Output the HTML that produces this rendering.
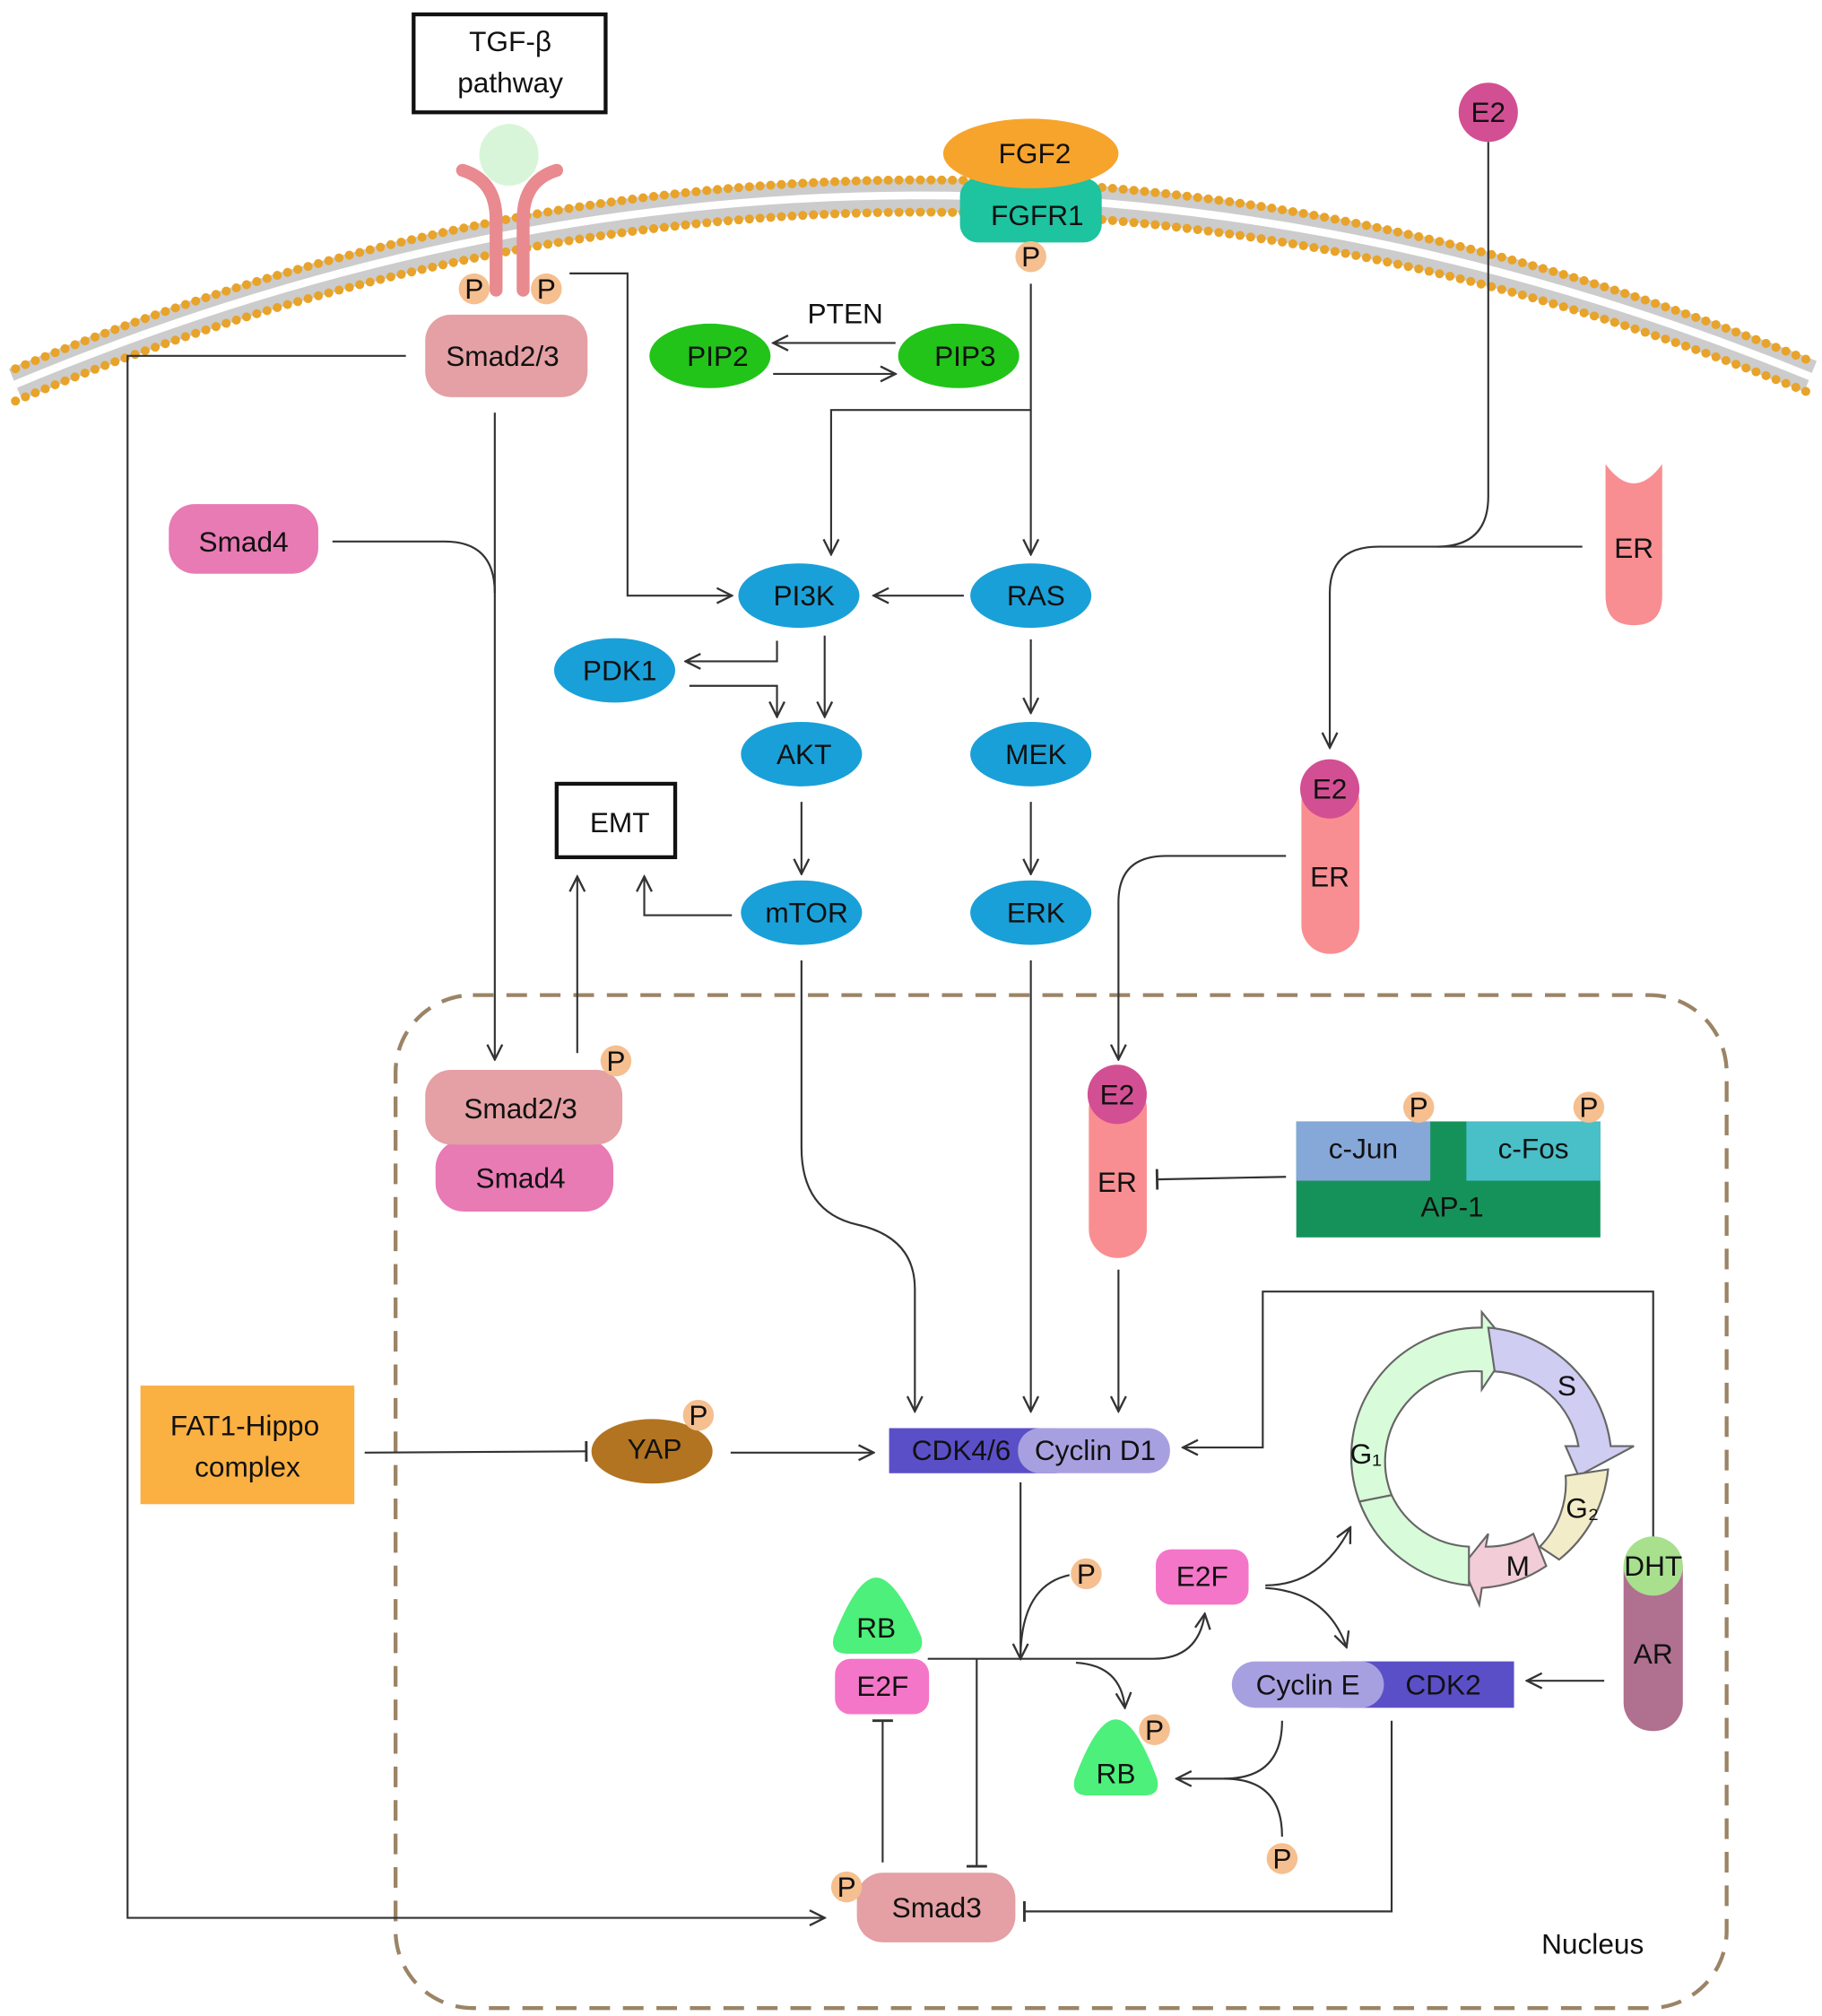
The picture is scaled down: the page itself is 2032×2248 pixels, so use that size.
<!DOCTYPE html>
<html><head><meta charset="utf-8"><style>
html,body{margin:0;padding:0;background:#fff}
svg{display:block}
text{font-family:"Liberation Sans",sans-serif;font-size:22px;fill:#111;text-anchor:middle;dominant-baseline:central}
</style></head><body>
<svg width="2032" height="2248" viewBox="0 0 1414 1564" xmlns="http://www.w3.org/2000/svg">
<defs>
<marker id="a" viewBox="0 0 12 12" refX="11" refY="6" markerWidth="14" markerHeight="14" markerUnits="userSpaceOnUse" orient="auto"><path d="M1,1 L11,6 L1,11" fill="none" stroke="#333" stroke-width="1.4"/></marker>
<marker id="t" viewBox="0 0 4 16" refX="2" refY="8" markerWidth="4" markerHeight="16" markerUnits="userSpaceOnUse" orient="auto"><path d="M2,0 L2,16" stroke="#333" stroke-width="2"/></marker>
</defs>
<!-- membrane -->
<g fill="none">
<path d="M12,298 Q707,8 1405,292" stroke="#ccc" stroke-width="26"/>
<path d="M12,298 Q707,8 1405,292" stroke="#fff" stroke-width="6"/>
<path d="M12,286 Q707,-4 1405,280" stroke="#e8a32a" stroke-width="7" stroke-linecap="round" stroke-dasharray="0 8.3"/>
<path d="M12,311 Q707,21 1405,305" stroke="#e8a32a" stroke-width="7" stroke-linecap="round" stroke-dasharray="0 8.3"/>
</g>
<!-- nucleus -->
<rect x="307" y="772" width="1033" height="786" rx="60" fill="none" stroke="#9b8466" stroke-width="3" stroke-dasharray="16 10"/>
<text x="1236" y="1508">Nucleus</text>
<!-- TGF -->
<rect x="321" y="11" width="149" height="76" fill="#fff" stroke="#111" stroke-width="3"/>
<text x="396" y="32">TGF-β</text><text x="396" y="64">pathway</text>
<ellipse cx="395" cy="120" rx="23" ry="24" fill="#d9f5d9"/>
<path d="M359,132 Q385,140 385,170 L385,225" stroke="#e88a8f" stroke-width="10" fill="none" stroke-linecap="round"/>
<path d="M432,132 Q406,140 406,170 L406,225" stroke="#e88a8f" stroke-width="10" fill="none" stroke-linecap="round"/>
<circle cx="368" cy="224" r="12" fill="#f5bf8f"/><text x="368" y="224">P</text>
<circle cx="424" cy="224" r="12" fill="#f5bf8f"/><text x="424" y="224">P</text>
<rect x="330" y="244" width="126" height="64" rx="20" fill="#e4a0a4"/><text x="390" y="276">Smad2/3</text>
<!-- FGF -->
<rect x="745" y="138" width="110" height="50" rx="14" fill="#1ec3a0"/><text x="805" y="167">FGFR1</text>
<ellipse cx="800" cy="119" rx="68" ry="27" fill="#f7a42c"/><text x="803" y="119">FGF2</text>
<circle cx="800" cy="199" r="12" fill="#f5bf8f"/><text x="800" y="199">P</text>
<!-- E2 top -->
<circle cx="1155" cy="87" r="23" fill="#d34f93"/><text x="1155" y="87">E2</text>
<!-- PIP -->
<ellipse cx="551" cy="276" rx="47" ry="25" fill="#22c41a"/><text x="557" y="276">PIP2</text>
<ellipse cx="744" cy="276" rx="47" ry="25" fill="#22c41a"/><text x="749" y="276">PIP3</text>
<text x="656" y="243">PTEN</text>
<g stroke="#333" stroke-width="1.5" fill="none">
<path d="M695,266 L600,266" marker-end="url(#a)"/>
<path d="M600,290 L695,290" marker-end="url(#a)"/>
<!-- FGFR down -->
<path d="M800,220 L800,430" marker-end="url(#a)"/>
<path d="M800,318 L645,318 L645,430" marker-end="url(#a)"/>
<!-- TGF to PI3K -->
<path d="M442,212 L487,212 L487,462 L568,462" marker-end="url(#a)"/>
<path d="M748,462 L678,462" marker-end="url(#a)"/>
<path d="M603,497 L603,513 L532,513" marker-end="url(#a)"/>
<path d="M535,532 L603,532 L603,556" marker-end="url(#a)"/>
<path d="M640,493 L640,556" marker-end="url(#a)"/>
<path d="M800,496 L800,553" marker-end="url(#a)"/>
<path d="M622,622 L622,678" marker-end="url(#a)"/>
<path d="M800,622 L800,678" marker-end="url(#a)"/>
<path d="M568,710 L500,710 L500,680" marker-end="url(#a)"/>
<!-- Smad path -->
<path d="M384,320 L384,822" marker-end="url(#a)"/>
<path d="M258,420 L345,420 Q384,420 384,460"/>
<path d="M448,817 L448,680" marker-end="url(#a)"/>
<path d="M315,276 L99,276 L99,1488 L640,1488" marker-end="url(#a)"/>
<!-- E2 -->
<path d="M1155,110 L1155,385 Q1155,424 1115,424 L1070,424 Q1032,424 1032,460 L1032,580" marker-end="url(#a)"/>
<path d="M1228,424 L1115,424"/>
<path d="M998,664 L905,664 Q868,664 868,700 L868,822" marker-end="url(#a)"/>
<path d="M998,913 L898,915" marker-end="url(#t)"/>
<path d="M868,985 L868,1095" marker-end="url(#a)"/>
<!-- mTOR / ERK to cyclin D -->
<path d="M622,745 L622,890 Q622,940 665,950 Q710,960 710,1000 L710,1095" marker-end="url(#a)"/>
<path d="M800,745 L800,1095" marker-end="url(#a)"/>
<path d="M1283,1195 L1283,1002 L980,1002 L980,1123 L918,1123" marker-end="url(#a)"/>
<!-- YAP -->
<path d="M283,1127 L455,1126" marker-end="url(#t)"/>
<path d="M567,1127 L678,1127" marker-end="url(#a)"/>
<!-- CDK4/6 down -->
<path d="M792,1150 L792,1287"/>
<path d="M830,1222 Q792,1230 792,1287" marker-end="url(#a)"/>
<path d="M720,1287 L895,1287 Q930,1287 935,1252" marker-end="url(#a)"/>
<path d="M835,1290 Q870,1292 873,1325" marker-end="url(#a)"/>
<path d="M758,1287 L758,1448" marker-end="url(#t)"/>
<path d="M685,1445 L685,1335" marker-end="url(#t)"/>
<path d="M982,1230 Q1025,1230 1048,1185" marker-end="url(#a)"/>
<path d="M982,1232 Q1030,1235 1045,1278" marker-end="url(#a)"/>
<path d="M1245,1304 L1185,1304" marker-end="url(#a)"/>
<path d="M995,1335 Q995,1380 950,1380 L913,1380" marker-end="url(#a)"/>
<path d="M995,1425 Q995,1380 950,1380"/>
<path d="M1080,1335 L1080,1483 L795,1483" marker-end="url(#t)"/>
</g>
<!-- blue ellipses -->
<g fill="#1aa0d8">
<ellipse cx="620" cy="462" rx="47" ry="25"/><ellipse cx="800" cy="462" rx="47" ry="25"/>
<ellipse cx="477" cy="520" rx="47" ry="25"/><ellipse cx="622" cy="585" rx="47" ry="25"/>
<ellipse cx="800" cy="585" rx="47" ry="25"/><ellipse cx="622" cy="708" rx="47" ry="25"/>
<ellipse cx="800" cy="708" rx="47" ry="25"/>
</g>
<text x="624" y="462">PI3K</text><text x="804" y="462">RAS</text><text x="481" y="520">PDK1</text>
<text x="624" y="585">AKT</text><text x="804" y="585">MEK</text><text x="626" y="708">mTOR</text><text x="804" y="708">ERK</text>
<rect x="131" y="391" width="116" height="54" rx="20" fill="#e87ab4"/><text x="189" y="420">Smad4</text>
<rect x="432" y="608" width="92" height="57" fill="#fff" stroke="#111" stroke-width="3"/><text x="481" y="638">EMT</text>
<!-- ER -->
<path d="M1246,360 Q1268,390 1290,360 L1290,462 Q1290,485 1268,485 Q1246,485 1246,462 Z" fill="#f88e91"/>
<text x="1268" y="425">ER</text>
<rect x="1010" y="600" width="45" height="140" rx="22" fill="#f88e91"/><text x="1032" y="680">ER</text>
<circle cx="1032" cy="612" r="23" fill="#d34f93"/><text x="1032" y="612">E2</text>
<rect x="845" y="838" width="45" height="138" rx="22" fill="#f88e91"/><text x="867" y="917">ER</text>
<circle cx="867" cy="849" r="23" fill="#d34f93"/><text x="867" y="849">E2</text>
<!-- nuclear smads -->
<rect x="338" y="884" width="138" height="56" rx="22" fill="#e87ab4"/><text x="404" y="914">Smad4</text>
<rect x="330" y="830" width="153" height="58" rx="20" fill="#e4a0a4"/><text x="404" y="860">Smad2/3</text>
<circle cx="478" cy="823" r="12" fill="#f5bf8f"/><text x="478" y="823">P</text>
<!-- AP-1 -->
<rect x="1006" y="870" width="236" height="90" fill="#15925a"/>
<rect x="1006" y="870" width="104" height="46" fill="#85a8d8"/><text x="1058" y="891">c-Jun</text>
<rect x="1138" y="870" width="104" height="46" fill="#49bfc7"/><text x="1190" y="891">c-Fos</text>
<text x="1127" y="936">AP-1</text>
<circle cx="1101" cy="859" r="12" fill="#f5bf8f"/><text x="1101" y="859">P</text>
<circle cx="1233" cy="859" r="12" fill="#f5bf8f"/><text x="1233" y="859">P</text>
<!-- FAT1 -->
<rect x="109" y="1075" width="166" height="92" fill="#fbb042"/>
<text x="190" y="1106">FAT1-Hippo</text><text x="192" y="1138">complex</text>
<ellipse cx="506" cy="1126" rx="47" ry="25" fill="#b27420"/><text x="508" y="1124">YAP</text>
<circle cx="542" cy="1098" r="12" fill="#f5bf8f"/><text x="542" y="1098">P</text>
<!-- CDK4/6 -->
<rect x="690" y="1108" width="130" height="35" fill="#5b4fc8"/>
<rect x="790" y="1108" width="118" height="35" rx="17" fill="#a7a0e0"/>
<text x="746" y="1125">CDK4/6</text><text x="850" y="1125">Cyclin D1</text>
<!-- RB/E2F -->
<path d="M680,1224 Q695,1224 715,1270 Q718,1283 705,1283 L657,1283 Q644,1283 647,1270 Q665,1224 680,1224 Z" fill="#4cf07a"/>
<text x="680" y="1263">RB</text>
<rect x="648" y="1287" width="73" height="43" rx="12" fill="#f476c9"/><text x="685" y="1308">E2F</text>
<path d="M866,1334 Q881,1334 898,1380 Q901,1393 888,1393 L844,1393 Q831,1393 834,1380 Q851,1334 866,1334 Z" fill="#4cf07a"/>
<text x="866" y="1376">RB</text>
<circle cx="896" cy="1342" r="12" fill="#f5bf8f"/><text x="896" y="1342">P</text>
<circle cx="843" cy="1221" r="12" fill="#f5bf8f"/><text x="843" y="1221">P</text>
<circle cx="995" cy="1442" r="12" fill="#f5bf8f"/><text x="995" y="1442">P</text>
<rect x="897" y="1202" width="72" height="43" rx="12" fill="#f476c9"/><text x="933" y="1223">E2F</text>
<!-- cyclin E -->
<rect x="1040" y="1289" width="135" height="36" fill="#5b4fc8"/>
<rect x="956" y="1289" width="118" height="36" rx="18" fill="#a7a0e0"/>
<text x="1015" y="1307">Cyclin E</text><text x="1120" y="1307">CDK2</text>
<!-- AR -->
<rect x="1260" y="1195" width="46" height="148" rx="22" fill="#b07090"/><text x="1283" y="1283">AR</text>
<circle cx="1283" cy="1215" r="23" fill="#a8e08e"/><text x="1283" y="1215">DHT</text>
<!-- Smad3 -->
<rect x="665" y="1453" width="123" height="54" rx="20" fill="#e4a0a4"/><text x="727" y="1480">Smad3</text>
<circle cx="657" cy="1464" r="12" fill="#f5bf8f"/><text x="657" y="1464">P</text>
<!-- cell cycle -->
<g stroke="#666" stroke-width="1.5">
<path d="M1150,1030 A100,100 0 0 0 1055,1165 L1080,1160 A70,70 0 0 1 1150,1064 L1150,1078 L1172,1045 L1150,1018 Z" fill="#d8fcd9"/>
<path d="M1155,1030 A105,105 0 0 1 1250,1122 L1268,1122 L1225,1145 L1215,1122 L1225,1122 A70,70 0 0 0 1160,1064 Z" fill="#cfcdf2"/>
<path d="M1248,1140 A102,102 0 0 1 1210,1210 L1195,1200 A70,70 0 0 0 1215,1145 Z" fill="#f2ecc8"/>
<path d="M1200,1215 A102,102 0 0 1 1150,1232 L1148,1245 L1135,1215 L1155,1190 L1153,1200 A70,70 0 0 0 1190,1190 Z" fill="#f2ccd6"/>
<path d="M1055,1165 A100,100 0 0 0 1140,1230 L1140,1200 A70,70 0 0 1 1080,1160 Z" fill="#d8fcd9"/>
</g>
<text x="1060" y="1128">G₁</text><text x="1216" y="1075">S</text><text x="1228" y="1170">G₂</text><text x="1178" y="1215">M</text>
</svg>
</body></html>
